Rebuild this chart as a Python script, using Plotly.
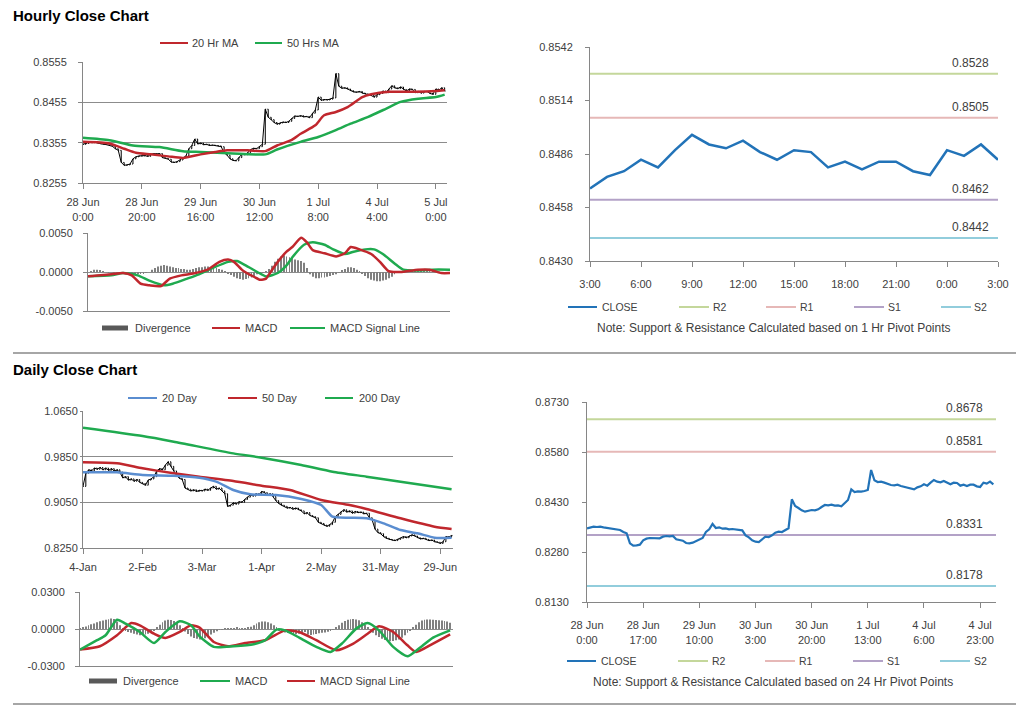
import plotly.graph_objects as go

W, H = 1024, 706
OFF = 8  # the page places the figure 8px from the top-left corner
FONT = "Liberation Sans, Arial, sans-serif"
TXT = "#404040"
AX = "#868686"
GRID = "#8c8c8c"

# ---------------- data: hourly (28 Jun 0:00 .. 5 Jul 3:00) ----------------
hourly_close = [
    0.8351, 0.8353, 0.8356, 0.8355, 0.8356, 0.8354, 0.8352, 0.8351, 0.8350, 0.8348,
    0.8346, 0.8340, 0.8336, 0.8306, 0.8299, 0.8300, 0.8302, 0.8315, 0.8320, 0.8322,
    0.8322, 0.8323, 0.8321, 0.8326, 0.8328, 0.8327, 0.8328, 0.8318, 0.8316, 0.8314,
    0.8307, 0.8306, 0.8308, 0.8312, 0.8318, 0.8322, 0.8340, 0.8348, 0.8364, 0.8352,
    0.8354, 0.8350, 0.8351, 0.8348, 0.8349, 0.8348, 0.8347, 0.8345, 0.8330, 0.8324,
    0.8315, 0.8311, 0.8310, 0.8318, 0.8326, 0.8325, 0.8330, 0.8338, 0.8341, 0.8340,
    0.8345, 0.8351, 0.8438, 0.8418, 0.8412, 0.8405, 0.8401, 0.8404, 0.8406, 0.8405,
    0.8408, 0.8415, 0.8421, 0.8420, 0.8422, 0.8419, 0.8420, 0.8417, 0.8428, 0.8436,
    0.8468, 0.8460, 0.8462, 0.8461, 0.8463, 0.8466, 0.8526, 0.8495, 0.8490, 0.8491,
    0.8488, 0.8484, 0.8481, 0.8480, 0.8482, 0.8478, 0.8476, 0.8474, 0.8472,
    0.8468, 0.8474, 0.8477, 0.8483, 0.8479, 0.8488, 0.8496, 0.8491, 0.8489, 0.8493,
    0.8487, 0.8483, 0.8488, 0.8487, 0.8479, 0.8482, 0.8478, 0.8482, 0.8482, 0.8477,
    0.8475, 0.8488, 0.8485, 0.8491, 0.8483,
]
hourly_tick_idx = [0, 20, 40, 60, 80, 100, 120]
hourly_tick_text = ["28 Jun<br>0:00", "28 Jun<br>20:00", "29 Jun<br>16:00", "30 Jun<br>12:00",
                    "1 Jul<br>8:00", "4 Jul<br>4:00", "5 Jul<br>0:00"]

ma20_x = [0, 9, 14, 18, 23, 29, 34, 40, 45, 49, 56, 62, 66, 71, 74, 79, 82, 86, 90, 95, 98, 104, 113, 120, 123]
ma20_y = [0.8357, 0.8353, 0.8340, 0.8330, 0.8326, 0.8321, 0.8317, 0.8326, 0.8332, 0.8336, 0.8336, 0.8334,
          0.8348, 0.8362, 0.8377, 0.8398, 0.8423, 0.8431, 0.8443, 0.8468, 0.8475, 0.8481, 0.8481, 0.8483, 0.8485]
ma50_x = [0, 9, 17, 26, 34, 40, 51, 62, 66, 74, 80, 86, 91, 97, 103, 108, 114, 120, 123]
ma50_y = [0.8367, 0.8361, 0.8348, 0.8344, 0.8334, 0.8332, 0.8328, 0.8326, 0.8338, 0.8357, 0.8369, 0.8386,
          0.8402, 0.8419, 0.8439, 0.8456, 0.8464, 0.8468, 0.8474]

h_macd_x = [0, 8, 12, 15, 18, 21, 25, 28, 32, 36, 41, 45, 48, 50, 53, 57, 59, 61, 62, 65,
            68, 70, 73, 75, 77, 81, 85, 88, 90, 93, 97, 100, 103, 107, 113, 117, 121, 124]
h_macd_y = [-0.00056, -0.0003, -0.00013, -0.00043, -0.0015, -0.0017, -0.0018, -0.00085, -0.00043, -0.0002,
            0.0003, 0.0013, 0.0016, 0.0013, 0.0002, -0.00064, -0.001, -0.00085, -0.0003, 0.0013,
            0.0026, 0.0032, 0.0044, 0.0038, 0.0028, 0.0024, 0.0020, 0.0024, 0.0032, 0.0029,
            0.0023, 0.0013, 0.0001, 0.0, 0.0003, 0.0003, -0.00013, -0.00013]
h_sig_x = [0, 8, 12, 17, 21, 26, 29, 34, 38, 43, 48, 51, 54, 58, 61, 65, 68, 70, 74, 77,
           81, 84, 88, 91, 95, 98, 101, 105, 108, 113, 118, 124]
h_sig_y = [-0.00056, -0.00043, -0.00013, -0.00043, -0.0011, -0.0017, -0.0015, -0.00085, -0.0003, 0.00056,
           0.0013, 0.0014, 0.00085, 0.0, -0.00056, -0.00013, 0.00085, 0.0019, 0.0035, 0.0038,
           0.0035, 0.0029, 0.0023, 0.0026, 0.0029, 0.0029, 0.0023, 0.0011, 0.0003, 0.0002, 0.0003, 0.0003]
h_div = [
    0.0000, 0.0001, 0.0003, 0.0003, 0.0002, 0.0001, 0.0000, -0.0001, 0.0000, -0.0001,
    -0.0001, -0.0002, -0.0002, -0.0003, -0.0004, -0.0003, -0.0004, -0.0003, -0.0002, -0.0002,
    -0.0001, 0.0000, 0.0003, 0.0005, 0.0007, 0.0008, 0.0009, 0.0008, 0.0007, 0.0006,
    0.0005, 0.0005, 0.0004, 0.0004, 0.0003, 0.0003, 0.0004, 0.0005, 0.0006, 0.0006,
    0.0007, 0.0007, 0.0006, 0.0006, 0.0005, 0.0004, 0.0003, 0.0001, -0.0002, -0.0004,
    -0.0006, -0.0008, -0.0009, -0.0010, -0.0009, -0.0008, -0.0007, -0.0005, -0.0003, -0.0002,
    -0.0001, 0.0001, 0.0004, 0.0008, 0.0013, 0.0017, 0.0020, 0.0021, 0.0020, 0.0019,
    0.0018, 0.0016, 0.0015, 0.0014, 0.0012, 0.0005, -0.0003, -0.0006, -0.0008, -0.0008,
    -0.0007, -0.0007, -0.0006, -0.0005, -0.0004, -0.0003, -0.0001, 0.0002, 0.0004, 0.0006,
    0.0006, 0.0005, 0.0003, 0.0001, -0.0002, -0.0005, -0.0008, -0.0010, -0.0011, -0.0012,
    -0.0012, -0.0011, -0.0010, -0.0008, -0.0006, -0.0003, -0.0001, 0.0000, 0.0001, 0.0002,
    0.0002, 0.0002, 0.0001, 0.0002, 0.0002, 0.0001, 0.0001, 0.0002, 0.0001, 0.0000,
    0.0000, 0.0000, -0.0001, 0.0000,
]

# pivot panel (last 24 hours: 4 Jul 3:00 .. 5 Jul 3:00)
pivot1_start = 99
pivot1_tick_idx = [0, 3, 6, 9, 12, 15, 18, 21, 24]
pivot1_tick_text = ["3:00", "6:00", "9:00", "12:00", "15:00", "18:00", "21:00", "0:00", "3:00"]
pivot_names = ["R2", "R1", "S1", "S2"]
pivot_hourly = [0.8528, 0.8505, 0.8462, 0.8442]
pivot_daily = [0.8678, 0.8581, 0.8331, 0.8178]

daily_pivot_tick_idx = [0, 17, 34, 51, 68, 85, 102, 119]
daily_pivot_tick_text = ["28 Jun<br>0:00", "28 Jun<br>17:00", "29 Jun<br>10:00", "30 Jun<br>3:00",
                         "30 Jun<br>20:00", "1 Jul<br>13:00", "4 Jul<br>6:00", "4 Jul<br>23:00"]

# ---------------- data: daily (4 Jan .. 4 Jul) ----------------
daily_close = [
    0.9330, 0.9560, 0.9620, 0.9600, 0.9650, 0.9630, 0.9660, 0.9620, 0.9650, 0.9610,
    0.9640, 0.9600, 0.9620, 0.9580, 0.9480, 0.9500, 0.9440, 0.9460, 0.9420, 0.9450,
    0.9400, 0.9380, 0.9350, 0.9440, 0.9460, 0.9500, 0.9600, 0.9640, 0.9620, 0.9700,
    0.9760, 0.9680, 0.9600, 0.9520, 0.9470, 0.9450, 0.9300, 0.9280, 0.9250, 0.9270,
    0.9240, 0.9260, 0.9250, 0.9280, 0.9260, 0.9300, 0.9330, 0.9280, 0.9300, 0.9250,
    0.9200, 0.8980, 0.9000, 0.9040, 0.9020, 0.9060, 0.9050, 0.9100, 0.9140, 0.9180,
    0.9160, 0.9200, 0.9180, 0.9240, 0.9220, 0.9180, 0.9200, 0.9150, 0.9080, 0.9030,
    0.9000, 0.8980, 0.8950, 0.8960, 0.8930, 0.8950, 0.8920, 0.8900, 0.8850, 0.8870,
    0.8820, 0.8800, 0.8780, 0.8700, 0.8680, 0.8650, 0.8630, 0.8660, 0.8700, 0.8800,
    0.8840, 0.8890, 0.8920, 0.8880, 0.8900, 0.8860, 0.8890, 0.8870, 0.8880, 0.8850,
    0.8860, 0.8780, 0.8740, 0.8580, 0.8520, 0.8500, 0.8450, 0.8420, 0.8400, 0.8390,
    0.8380, 0.8400, 0.8420, 0.8450, 0.8430, 0.8460, 0.8480, 0.8460, 0.8430, 0.8410,
    0.8420, 0.8400, 0.8380, 0.8390, 0.8360, 0.8350, 0.8330, 0.8360, 0.8450, 0.8440,
    0.8470,
]
daily_tick_idx = [0, 21, 42, 63, 84, 105, 126]
daily_tick_text = ["4-Jan", "2-Feb", "3-Mar", "1-Apr", "2-May", "31-May", "29-Jun"]

d20_x = [0, 12, 21, 32, 41, 47, 53, 59, 68, 77, 84, 88, 94, 100, 106, 112, 118, 124, 130]
d20_y = [0.9575, 0.9575, 0.9529, 0.9517, 0.9482, 0.9412, 0.9266, 0.9190, 0.9178, 0.9108, 0.9003,
         0.8799, 0.8781, 0.8770, 0.8682, 0.8565, 0.8507, 0.8431, 0.8431]
d50_x = [0, 12, 21, 32, 41, 53, 63, 73, 84, 94, 100, 112, 124, 130]
d50_y = [0.9751, 0.9733, 0.9646, 0.9558, 0.9499, 0.9424, 0.9342, 0.9266, 0.9091, 0.9003, 0.8933,
         0.8770, 0.8624, 0.8583]
d200_x = [0, 21, 32, 53, 63, 77, 88, 100, 112, 130]
d200_y = [1.0358, 1.0212, 1.0113, 0.9908, 0.9832, 0.9704, 0.9587, 0.9500, 0.9412, 0.9278]

d_macd_x = [0, 6, 9, 13, 16, 21, 26, 30, 35, 39, 42, 47, 54, 61, 65, 69, 72, 77, 83, 88,
            92, 97, 101, 105, 110, 115, 119, 124, 130]
d_macd_y = [-0.0167, -0.0091, -0.0051, 0.0075, 0.0043, -0.0024, -0.0113, -0.0024, 0.0062, 0.0030,
            -0.0059, -0.0145, -0.0140, -0.0124, -0.0091, -0.0005, -0.0011, -0.0070, -0.0145, -0.0186,
            -0.0118, 0.0003, 0.0048, -0.0011, -0.0145, -0.0221, -0.0159, -0.0070, -0.0011]
d_sig_x = [0, 7, 13, 18, 21, 26, 30, 35, 39, 42, 47, 52, 58, 65, 72, 77, 83, 90, 96, 101,
           105, 110, 115, 118, 124, 130]
d_sig_y = [-0.0167, -0.0140, -0.0051, 0.0048, 0.0030, -0.0038, -0.0073, -0.0024, 0.0030, 0.0011,
           -0.0105, -0.0140, -0.0113, -0.0091, -0.0011, -0.0024, -0.0091, -0.0172, -0.0118, -0.0038,
           0.0022, -0.0024, -0.0132, -0.0186, -0.0118, -0.0043]
d_div = [
    0.0005, 0.0012, 0.0020, 0.0030, 0.0038, 0.0045, 0.0055, 0.0062, 0.0068, 0.0075,
    0.0080, 0.0085, 0.0082, 0.0060, 0.0030, 0.0005, -0.0015, -0.0025, -0.0030, -0.0038,
    -0.0045, -0.0050, -0.0048, -0.0045, -0.0038, -0.0025, -0.0010, 0.0010, 0.0035, 0.0055,
    0.0068, 0.0075, 0.0072, 0.0065, 0.0050, 0.0030, 0.0005, -0.0020, -0.0040, -0.0060,
    -0.0072, -0.0080, -0.0085, -0.0082, -0.0075, -0.0060, -0.0045, -0.0030, -0.0018, -0.0008,
    -0.0003, 0.0005, 0.0008, 0.0006, 0.0008, 0.0010, 0.0008, 0.0006, 0.0008, 0.0012,
    0.0018, 0.0030, 0.0045, 0.0055, 0.0060, 0.0060, 0.0055, 0.0045, 0.0030, 0.0010,
    -0.0010, -0.0020, -0.0028, -0.0032, -0.0035, -0.0040, -0.0042, -0.0038, -0.0030, -0.0025,
    -0.0045, -0.0048, -0.0045, -0.0040, -0.0035, -0.0030, -0.0028, -0.0022, -0.0015, -0.0005,
    0.0010, 0.0030, 0.0050, 0.0065, 0.0075, 0.0080, 0.0082, 0.0078, 0.0070, 0.0055,
    0.0035, 0.0015, -0.0010, -0.0030, -0.0050, -0.0065, -0.0080, -0.0090, -0.0095, -0.0100,
    -0.0098, -0.0092, -0.0085, -0.0070, -0.0050, -0.0030, -0.0010, 0.0010, 0.0035, 0.0055,
    0.0068, 0.0075, 0.0078, 0.0078, 0.0075, 0.0072, 0.0070, 0.0068, 0.0065, 0.0060,
    0.0050,
]

# ---------------- styles ----------------
RED = "#c0272d"
GREEN = "#1faa4f"
BLUE20 = "#5a8dd0"
CLOSE_BLUE = "#2273b8"
DIV_GREY = "#808080"
PIVOT_COLORS = ["#c4d79b", "#e6b8b7", "#b3a2c7", "#92cddc"]


def px(x):
    return (x - OFF) / W


def py(y):
    return 1 - (y - OFF) / H


def ohlc_from_close(close, xa, ya):
    idx = list(range(len(close)))
    opens = [close[0]] + close[:-1]
    highs = [max(o, c) for o, c in zip(opens, close)]
    lows = [min(o, c) for o, c in zip(opens, close)]
    return go.Ohlc(x=idx, open=opens, high=highs, low=lows, close=close, xaxis=xa, yaxis=ya,
                   increasing=dict(line=dict(color="black", width=1)),
                   decreasing=dict(line=dict(color="black", width=1)),
                   tickwidth=0.3, showlegend=False, hoverinfo="skip")


def line(x, y, color, xa, ya, width=2, smooth=False):
    ln = dict(color=color, width=width)
    if smooth:
        ln.update(shape="spline", smoothing=0.6)
    return go.Scatter(x=x, y=y, mode="lines", line=ln,
                      xaxis=xa, yaxis=ya, showlegend=False, hoverinfo="skip")


fig = go.Figure()

# panel 1: hourly price + MAs
fig.add_trace(line(list(range(len(hourly_close))), hourly_close, "black", "x", "y", 1))
fig.add_trace(ohlc_from_close(hourly_close, "x", "y"))
fig.add_trace(line(ma50_x, ma50_y, GREEN, "x", "y", 2.5, True))
fig.add_trace(line(ma20_x, ma20_y, RED, "x", "y", 2.5, True))

# panel 2: hourly MACD
fig.add_trace(go.Bar(x=list(range(len(h_div))), y=h_div, width=0.3, marker=dict(color=DIV_GREY, line=dict(width=0)),
                     xaxis="x2", yaxis="y2", showlegend=False, hoverinfo="skip"))
fig.add_trace(line(h_sig_x, h_sig_y, GREEN, "x2", "y2", 2.5, True))
fig.add_trace(line(h_macd_x, h_macd_y, RED, "x2", "y2", 2.5, True))

# panel 3: hourly pivots
for name, val, col in zip(pivot_names, pivot_hourly, PIVOT_COLORS):
    fig.add_trace(line([0, 24], [val, val], col, "x3", "y3", 2))
last24 = hourly_close[pivot1_start:pivot1_start + 25]
fig.add_trace(line(list(range(len(last24))), last24, CLOSE_BLUE, "x3", "y3", 2.5))

# panel 4: daily price + MAs
fig.add_trace(line(list(range(len(daily_close))), daily_close, "black", "x4", "y4", 1))
fig.add_trace(ohlc_from_close(daily_close, "x4", "y4"))
fig.add_trace(line(d200_x, d200_y, GREEN, "x4", "y4", 2.5, True))
fig.add_trace(line(d50_x, d50_y, RED, "x4", "y4", 2.5, True))
fig.add_trace(line(d20_x, d20_y, BLUE20, "x4", "y4", 2.5, True))

# panel 5: daily MACD
fig.add_trace(go.Bar(x=list(range(len(d_div))), y=d_div, width=0.3, marker=dict(color=DIV_GREY, line=dict(width=0)),
                     xaxis="x5", yaxis="y5", showlegend=False, hoverinfo="skip"))
fig.add_trace(line(d_sig_x, d_sig_y, RED, "x5", "y5", 2.5, True))
fig.add_trace(line(d_macd_x, d_macd_y, GREEN, "x5", "y5", 2.5, True))

# panel 6: daily pivots with hourly close
for name, val, col in zip(pivot_names, pivot_daily, PIVOT_COLORS):
    fig.add_trace(line([0, 123.8], [val, val], col, "x6", "y6", 2))
fig.add_trace(line(list(range(len(hourly_close))), hourly_close, CLOSE_BLUE, "x6", "y6", 2.2))

tickfont = dict(family=FONT, size=11, color=TXT)


def xax(dom, rng, anchor, tickvals=None, ticktext=None, standoff=4):
    d = dict(domain=dom, range=rng, anchor=anchor, showgrid=False, zeroline=False, showline=True,
             linecolor=AX, linewidth=1, tickfont=tickfont, fixedrange=True, automargin=False)
    if tickvals is None:
        d.update(showticklabels=False, ticks="")
    else:
        d.update(tickvals=tickvals, ticktext=ticktext, ticks="outside", ticklen=5, tickcolor=AX,
                 ticklabelstandoff=standoff)
    d["rangeslider"] = dict(visible=False)
    return d


def yax(dom, rng, anchor, tickvals, ticktext, grid=True, standoff=6, ticklen=4):
    return dict(domain=dom, range=rng, anchor=anchor, showgrid=grid, gridcolor=GRID, gridwidth=1,
                zeroline=False, showline=True, linecolor=AX, linewidth=1, tickfont=tickfont,
                tickvals=tickvals, ticktext=ticktext, ticks="outside", ticklen=ticklen, tickcolor=AX,
                ticklabelstandoff=standoff, fixedrange=True, automargin=False)


def fmt(vals):
    return ["%.4f" % v for v in vals]


y1v = [0.8255, 0.8355, 0.8455, 0.8555]
y2v = [-0.005, 0.0, 0.005]
y3v = [0.8430, 0.8458, 0.8486, 0.8514, 0.8542]
y4v = [0.8250, 0.9050, 0.9850, 1.0650]
y5v = [-0.03, 0.0, 0.03]
y6v = [0.8130, 0.8280, 0.8430, 0.8580, 0.8730]

layout = dict(
    width=W, height=H, margin=dict(l=0, r=0, t=0, b=0, pad=0, autoexpand=False),
    paper_bgcolor="white", plot_bgcolor="white", showlegend=False,
    font=dict(family=FONT, color=TXT),
    xaxis=xax([px(83), px(447)], [0, 123.8], "y", hourly_tick_idx, hourly_tick_text),
    yaxis=yax([py(183), py(62)], [0.8255, 0.8555], "x", y1v, fmt(y1v), standoff=9),
    xaxis2=xax([px(88), px(450)], [0, 124], "y2"),
    yaxis2=yax([py(311), py(233)], [-0.005, 0.005], "x2", y2v, fmt(y2v), standoff=8),
    xaxis3=xax([px(590), px(998)], [0, 24], "y3", pivot1_tick_idx, pivot1_tick_text, standoff=8),
    yaxis3=yax([py(261), py(47)], [0.8430, 0.8542], "x3", y3v, fmt(y3v), grid=False, standoff=10),
    xaxis4=xax([px(83), px(453)], [0, 130.5], "y4", daily_tick_idx, daily_tick_text),
    yaxis4=yax([py(548), py(411)], [0.8250, 1.0650], "x4", y4v, fmt(y4v), standoff=0, ticklen=2),
    xaxis5=xax([px(80), px(453)], [0, 131], "y5"),
    yaxis5=yax([py(666), py(592)], [-0.03, 0.03], "x5", y5v, fmt(y5v), standoff=8),
    xaxis6=xax([px(587), px(996)], [0, 123.8], "y6", daily_pivot_tick_idx, daily_pivot_tick_text, standoff=8),
    yaxis6=yax([py(602), py(402)], [0.8130, 0.8730], "x6", y6v, fmt(y6v), grid=False, standoff=11),
)
fig.update_layout(**layout)

shapes = []
annotations = []


def leg_line(x0, x1, y, color, width=2):
    shapes.append(dict(type="line", xref="paper", yref="paper", x0=px(x0), x1=px(x1), y0=py(y), y1=py(y),
                       line=dict(color=color, width=width)))


def leg_box(x0, x1, y, color):
    shapes.append(dict(type="rect", xref="paper", yref="paper", x0=px(x0), x1=px(x1), y0=py(y + 2.5),
                       y1=py(y - 2.5), fillcolor=color, line=dict(width=0)))


def text(x, y, s, size=11, xanchor="left", color=TXT, bold=False):
    annotations.append(dict(xref="paper", yref="paper", x=px(x), y=py(y), text=("<b>%s</b>" % s) if bold else s,
                            showarrow=False, xanchor=xanchor, yanchor="middle",
                            font=dict(family=FONT, size=size, color=color)))


# titles and separators
text(11, 16, "Hourly Close Chart", size=15, color="black", bold=True)
text(11, 369, "Daily Close Chart", size=15, color="black", bold=True)
shapes.append(dict(type="line", xref="paper", yref="paper", x0=px(13), x1=1, y0=py(353), y1=py(353),
                   line=dict(color="#a6a6a6", width=2)))
shapes.append(dict(type="line", xref="paper", yref="paper", x0=px(13), x1=1, y0=py(704), y1=py(704),
                   line=dict(color="#a6a6a6", width=2)))

# legends
leg_line(160, 188, 43, RED); text(190, 43, "20 Hr MA")
leg_line(255, 282, 43, GREEN); text(285, 43, "50 Hrs MA")

leg_box(102, 128, 328, "#595959"); text(133, 328, "Divergence")
leg_line(212, 240, 328, RED); text(243, 328, "MACD")
leg_line(290, 325, 328, GREEN); text(328, 328, "MACD Signal Line")

leg_line(568, 597, 307, CLOSE_BLUE); text(600, 307, "CLOSE", size=10.5)
for (x0, tx), name, col in zip([(679, 711), (766, 798), (854, 886), (941, 972)], pivot_names, PIVOT_COLORS):
    leg_line(x0, x0 + 30, 307, col); text(tx, 307, name, size=10.5)
text(774, 328, "Note: Support & Resistance Calculated based on 1 Hr Pivot Points", size=12, xanchor="center")

leg_line(128, 157, 398, BLUE20); text(160, 398, "20 Day")
leg_line(228, 257, 398, RED); text(260, 398, "50 Day")
leg_line(325, 353, 398, GREEN); text(357, 398, "200 Day")

leg_box(89, 117, 681, "#595959"); text(121, 681, "Divergence")
leg_line(200, 230, 681, GREEN); text(233, 681, "MACD")
leg_line(287, 315, 681, RED); text(318, 681, "MACD Signal Line")

leg_line(567, 596, 661, CLOSE_BLUE); text(599, 661, "CLOSE", size=10.5)
for (x0, tx), name, col in zip([(678, 710), (765, 797), (853, 885), (940, 972)], pivot_names, PIVOT_COLORS):
    leg_line(x0, x0 + 30, 661, col); text(tx, 661, name, size=10.5)
text(773, 682, "Note: Support & Resistance Calculated based on 24 Hr Pivot Points", size=12, xanchor="center")

# pivot value labels
for val in pivot_hourly:
    annotations.append(dict(xref="x3", yref="y3", x=23.6, y=val, text="%.4f" % val, showarrow=False,
                            xanchor="right", yanchor="bottom", yshift=2, font=dict(family=FONT, size=12, color=TXT)))
for val in pivot_daily:
    annotations.append(dict(xref="x6", yref="y6", x=120.5, y=val, text="%.4f" % val, showarrow=False,
                            xanchor="right", yanchor="bottom", yshift=2, font=dict(family=FONT, size=12, color=TXT)))

fig.update_layout(shapes=shapes, annotations=annotations)
fig.write_html("out.html")
